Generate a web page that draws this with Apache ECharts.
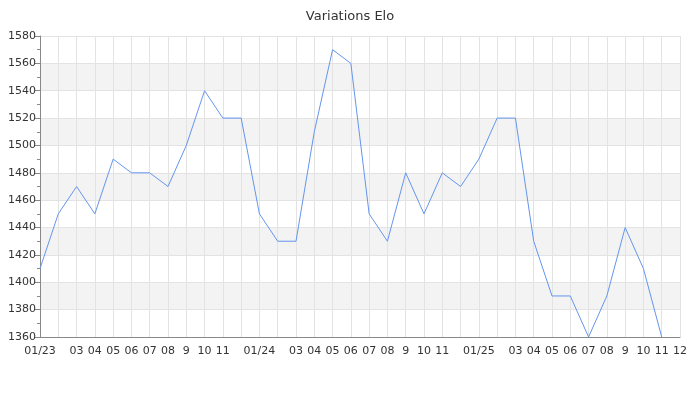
<!DOCTYPE html>
<html>
<head>
<meta charset="utf-8">
<script src="https://cdn.jsdelivr.net/npm/echarts@6/dist/echarts.min.js"></script>
<style>html,body{margin:0;padding:0;background:#fff}#c{width:700px;height:400px}</style>
</head>
<body>
<div id="c"></div>
<script>
const months = ['2023-01','2023-02','2023-03','2023-04','2023-05','2023-06','2023-07','2023-08','2023-09','2023-10','2023-11','2023-12',
  '2024-01','2024-02','2024-03','2024-04','2024-05','2024-06','2024-07','2024-08','2024-09','2024-10','2024-11','2024-12',
  '2025-01','2025-02','2025-03','2025-04','2025-05','2025-06','2025-07','2025-08','2025-09','2025-10','2025-11','2025-12'];
const tickLabels = ['01/23','','03','04','05','06','07','08','9','10','11','',
  '01/24','','03','04','05','06','07','08','9','10','11','',
  '01/25','','03','04','05','06','07','08','9','10','11','12'];
const elo = [1410,1450,1470,1450,1490,1480,1480,1470,1500,1540,1520,1520,
  1450,1430,1430,1510,1570,1560,1450,1430,1480,1450,1480,1470,
  1490,1520,1520,1430,1390,1390,1360,1390,1440,1410,1360,null];
const chart = echarts.init(document.getElementById('c'), null, {renderer:'canvas'});
chart.setOption({
  animation:false,
  title:{text:'Variations Elo',left:'center',top:5,textStyle:{fontSize:13,fontWeight:'normal',color:'#333',fontFamily:'DejaVu Sans'}},
  grid:{left:40,right:20,top:36,bottom:63,containLabel:false},
  xAxis:{type:'category',data:months,boundaryGap:false,
    axisLine:{lineStyle:{color:'#888'}},
    axisTick:{show:false},
    axisLabel:{interval:0,formatter:(v,i)=>tickLabels[i],fontSize:11,color:'#333',fontFamily:'DejaVu Sans',margin:9},
    splitLine:{show:true,interval:0,lineStyle:{color:'#e3e3e3'}}},
  yAxis:{type:'value',min:1360,max:1580,interval:20,
    axisLine:{show:true,lineStyle:{color:'#888'}},
    axisTick:{show:true,length:5,lineStyle:{color:'#888'}},
    minorTick:{show:true,splitNumber:2,length:3,lineStyle:{color:'#888'}},
    axisLabel:{formatter:v=>String(v),fontSize:11,color:'#333',fontFamily:'DejaVu Sans',margin:4},
    splitLine:{lineStyle:{color:'#e3e3e3'}},
    splitArea:{show:true,areaStyle:{color:['#ffffff','#f3f3f3']}}},
  series:[{type:'line',data:elo,showSymbol:false,symbol:'none',lineStyle:{width:1,color:'#6495ED'},itemStyle:{color:'#6495ED'}}]
});
</script>
</body>
</html>
